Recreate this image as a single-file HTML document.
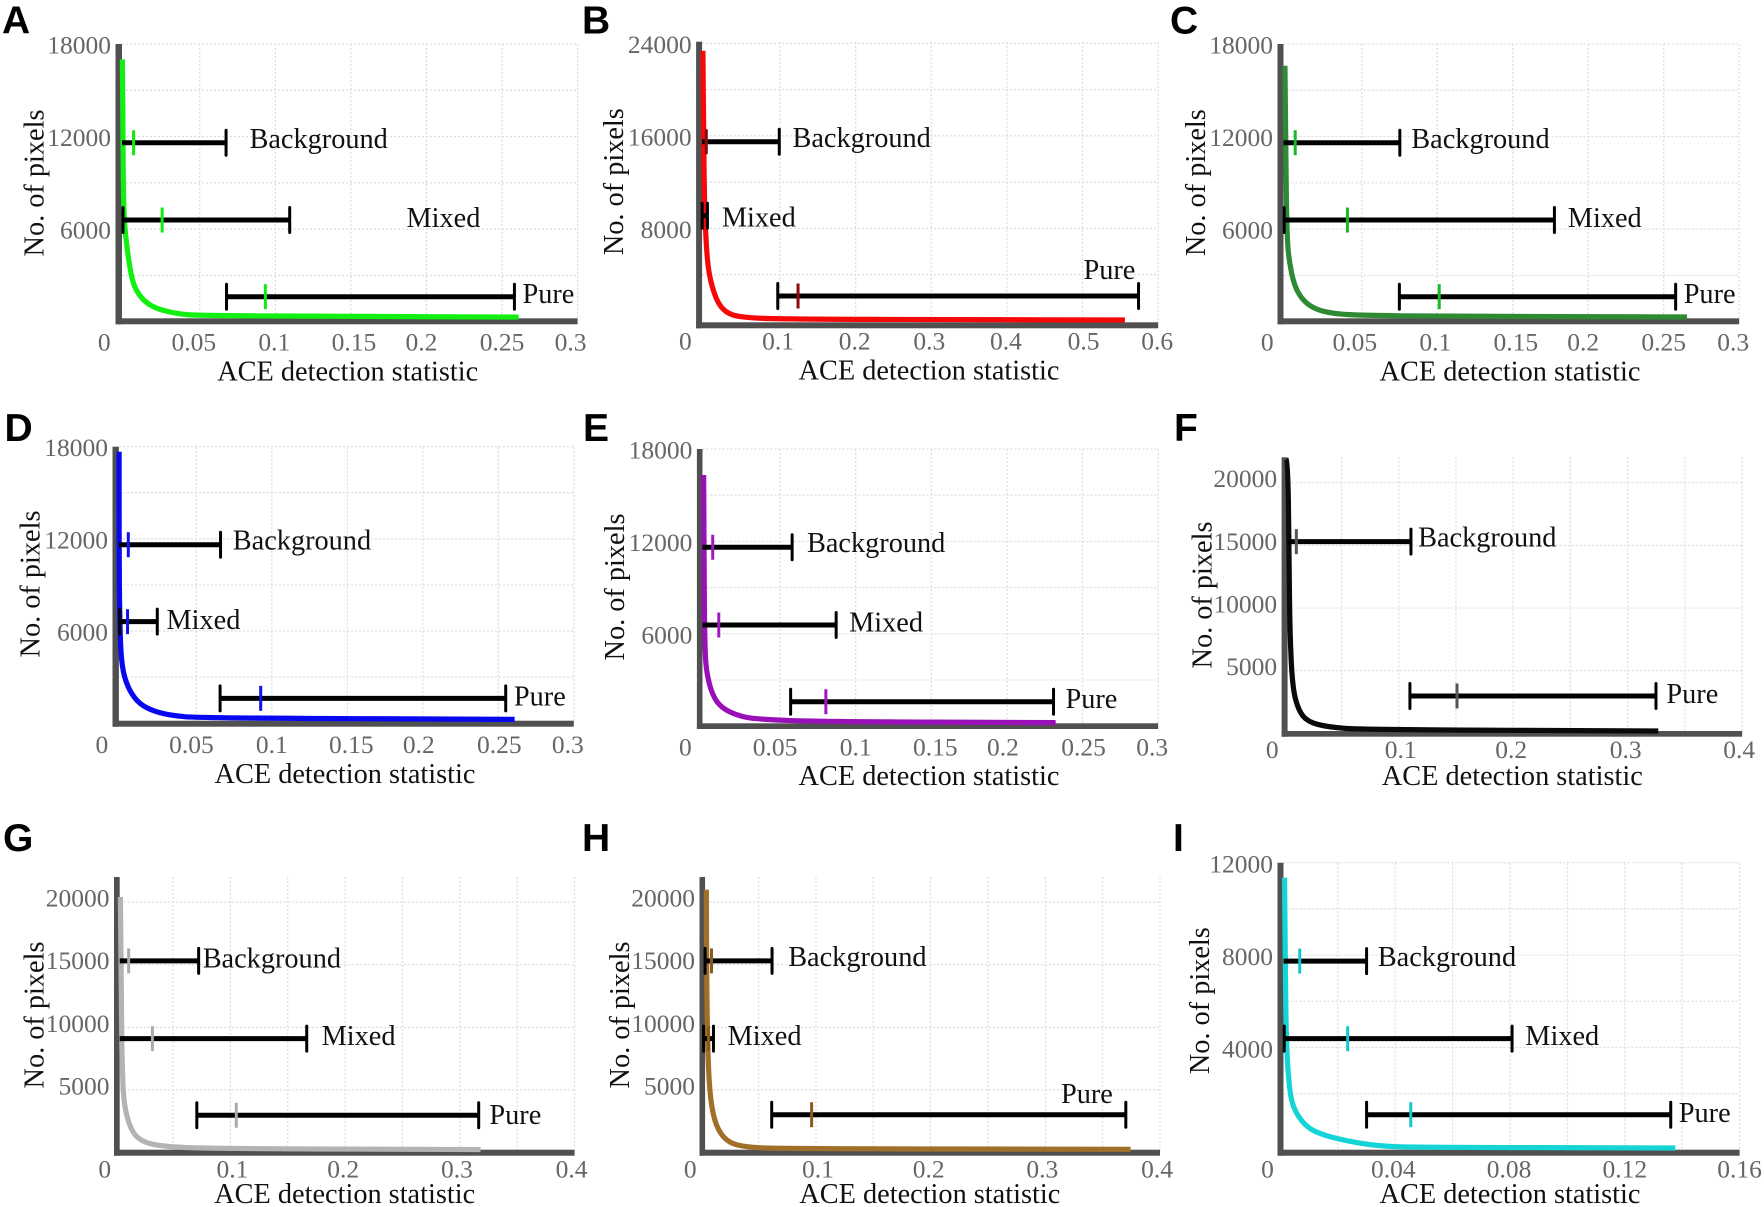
<!DOCTYPE html>
<html lang="en">
<head>
<meta charset="utf-8">
<title>ACE detection statistic histograms</title>
<style>
html,body{margin:0;padding:0;background:#fff;}
body{width:1764px;height:1207px;overflow:hidden;}
svg{display:block;filter:blur(0.35px);}
text{font-family:"Liberation Serif",serif;}
.letter{font-family:"Liberation Sans",sans-serif;font-weight:700;font-size:39px;fill:#000;}
.tick{font-size:25.5px;fill:#666;}
.title{font-size:28.3px;fill:#111;}
</style>
</head>
<body>
<svg id="figure" xmlns="http://www.w3.org/2000/svg" width="1764" height="1207" viewBox="0 0 1764 1207"></svg>
<script>
/* Shared ticks */
const rangeNames = ['Background', 'Mixed', 'Pure'];
const xTicks03 = [0, 0.05, 0.1, 0.15, 0.2, 0.25, 0.3];
const xTickLabels03 = ['0', '0.05', '0.1', '0.15', '0.2', '0.25', '0.3'];
const gridX03 = [0.05, 0.1, 0.15, 0.2, 0.25, 0.3];
const xTicks06 = [0, 0.1, 0.2, 0.3, 0.4, 0.5, 0.6];
const xTickLabels06 = ['0', '0.1', '0.2', '0.3', '0.4', '0.5', '0.6'];
const gridX06 = [0.1, 0.2, 0.3, 0.4, 0.5, 0.6];
const xTicks04 = [0, 0.1, 0.2, 0.3, 0.4];
const xTickLabels04 = ['0', '0.1', '0.2', '0.3', '0.4'];
const gridX04 = [0.05, 0.1, 0.15, 0.2, 0.25, 0.3, 0.35, 0.4];
const xTicks016 = [0, 0.04, 0.08, 0.12, 0.16];
const xTickLabels016 = ['0', '0.04', '0.08', '0.12', '0.16'];
const gridX016 = [0.02, 0.04, 0.06, 0.08, 0.1, 0.12, 0.14, 0.16];
const yTicks18k = [6000, 12000, 18000];
const yTickLabels18k = ['6000', '12000', '18000'];
const gridY18k = [3000, 6000, 9000, 12000, 15000, 18000];
const yTicks24k = [8000, 16000, 24000];
const yTickLabels24k = ['8000', '16000', '24000'];
const gridY24k = [4000, 8000, 12000, 16000, 20000, 24000];
const yTicks20k = [5000, 10000, 15000, 20000];
const yTickLabels20k = ['5000', '10000', '15000', '20000'];
const gridY20k = [5000, 10000, 15000, 20000];
const yTicks12k = [4000, 8000, 12000];
const yTickLabels12k = ['4000', '8000', '12000'];
const gridY12k = [2000, 4000, 6000, 8000, 10000, 12000];

/* Panel A */
const curveXA = [-0.0012, -0.0009, -0.0004, 0.0006, 0.0035, 0.007, 0.0168, 0.035, 0.05, 0.15, 0.261];
const curveYA = [17000, 12000, 7500, 5800, 3560, 2050, 970, 500, 400, 340, 300];
const rangeLevelA = [11600, 6590, 1620];
const rangeLoA = [null, -0.0008, 0.0677];
const rangeHiA = [0.0674, 0.1095, 0.2582];
const rangeMeanA = [0.0062, 0.0251, 0.0934];

/* Panel B */
const curveXB = [-0.002, -0.001, 0, 0.002, 0.0054, 0.0154, 0.0279, 0.0477, 0.097, 0.346, 0.556];
const curveYB = [23350, 16230, 10450, 7000, 4120, 1810, 720, 320, 170, 112, 86];
const rangeLevelB = [15490, 9100, 2160];
const rangeLoB = [null, -0.003, 0.097];
const rangeHiB = [0.099, 0.004, 0.574];
const rangeMeanB = [0.0025, null, 0.1238];

/* Panel C */
const curveXC = [-0.0009, -0.0003, 0.0004, 0.0017, 0.0054, 0.0116, 0.0203, 0.0328, 0.0502, 0.1001, 0.2654];
const curveYC = [16590, 10050, 5730, 4000, 2270, 1300, 760, 500, 415, 350, 305];
const rangeLevelC = [11600, 6590, 1620];
const rangeLoC = [null, -0.0014, 0.0749];
const rangeHiC = [0.0752, 0.1776, 0.2579];
const rangeMeanC = [0.0059, 0.0405, 0.1013];

/* Panel D */
const curveXD = [-0.0012, -0.0012, -0.0006, 0.0006, 0.0043, 0.0106, 0.0193, 0.0321, 0.052, 0.2608];
const curveYD = [17675, 10190, 5850, 3680, 2380, 1400, 860, 510, 340, 250];
const rangeLevelD = [11620, 6610, 1620];
const rangeLoD = [null, -0.0008, 0.0657];
const rangeHiD = [0.066, 0.0241, 0.2549];
const rangeMeanD = [0.0049, 0.0044, 0.0926];

/* Panel E */
const curveXE = [-0.0005, -0.0003, 0.0003, 0.0015, 0.0052, 0.0114, 0.024, 0.0363, 0.0736, 0.2322];
const curveYE = [16310, 10360, 4950, 3435, 2030, 1160, 620, 450, 300, 230];
const rangeLevelE = [11620, 6570, 1590];
const rangeLoE = [null, null, 0.057];
const rangeHiE = [0.058, 0.0871, 0.2308];
const rangeMeanE = [0.0055, 0.0095, 0.0803];

/* Panel F */
const curveXF = [0.0017, 0.0033, 0.0043, 0.005, 0.0072, 0.0122, 0.0204, 0.0385, 0.068, 0.3267];
const curveYF = [21870, 21680, 13300, 7990, 3730, 1870, 930, 500, 300, 190];
const rangeLevelF = [15300, null, 2985];
const rangeLoF = [null, null, 0.1098];
const rangeHiF = [0.1107, null, 0.3247];
const rangeMeanF = [0.0106, null, 0.1509];

/* Panel G */
const curveXG = [0.0041, 0.0048, 0.0058, 0.0074, 0.0139, 0.0237, 0.0401, 0.0795, 0.318];
const curveYG = [20400, 11630, 6300, 3650, 1650, 850, 510, 330, 250];
const rangeLevelG = [15300, 9100, 2985];
const rangeLoG = [null, null, 0.0707];
const rangeHiG = [0.0723, 0.1665, 0.3164];
const rangeMeanG = [0.0113, 0.032, 0.1051];

/* Panel H */
const curveXH = [0.0044, 0.0046, 0.0057, 0.0079, 0.0129, 0.0227, 0.0375, 0.067, 0.3744];
const curveYH = [20990, 14280, 7640, 4180, 2050, 850, 455, 320, 270];
const rangeLevelH = [15300, 9100, 3030];
const rangeLoH = [0.0033, 0.002, 0.0614];
const rangeHiH = [0.0617, 0.0106, 0.3702];
const rangeMeanH = [0.0089, 0.0063, 0.0962];

/* Panel I */
const curveXI = [0.0014, 0.0017, 0.002, 0.0029, 0.0042, 0.0083, 0.0134, 0.0219, 0.0337, 0.0481, 0.1376];
const curveYI = [11350, 7190, 4310, 2430, 1420, 630, 265, -20, -270, -325, -355];
const rangeLevelI = [7740, 4380, 1087];
const rangeLoI = [null, 0.0013, 0.03];
const rangeHiI = [0.03, 0.0807, 0.136];
const rangeMeanI = [0.0067, 0.0234, 0.0454];

const panels = [
 {id:'a',letter:'A',lx:2,ly:33.5,barL:115.5,barR:122,top:44,floorT:318.3,floorB:324.3,right:577.6,x0:124.2,xMax:0.3,y0:321.7,yRefPx:44,yRef:18000,
  cx:curveXA,cy:curveYA,level:rangeLevelA,lo:rangeLoA,hi:rangeHiA,mean:rangeMeanA,
  color:'#12f012',meanColor:'#12e812',xt:xTicks03,xl:xTickLabels03,gx:gridX03,yt:yTicks18k,yl:yTickLabels18k,gy:gridY18k,
  nudge:[-20,-6,-1,3,-5,0,-7],tickBase:350.5,titleX:347.7,titleBase:380.5,yTitleX:43.3,yTitleY:183,yDy:9.5,
  labels:[[249.5,147.8],[406.5,227.2],[522.5,303.2]]},
 {id:'b',letter:'B',lx:582,ly:33.5,barL:696.1,barR:702.1,top:41.7,floorT:322.3,floorB:328.3,right:1158.2,x0:704.4,xMax:0.6,y0:321,yRefPx:43.3,yRef:24000,
  cx:curveXB,cy:curveYB,level:rangeLevelB,lo:rangeLoB,hi:rangeHiB,mean:rangeMeanB,
  color:'#f60808',meanColor:'#8b0a0a',xt:xTicks06,xl:xTickLabels06,gx:gridX06,yt:yTicks24k,yl:yTickLabels24k,gy:gridY24k,
  nudge:[-19,-2,-1,-2,-1,1,-1],tickBase:349.5,titleX:929,titleBase:379.5,yTitleX:623,yTitleY:181.7,yDy:9.5,
  labels:[[792.5,147.2],[721.9,226.5],[1083.5,279.2]]},
 {id:'c',letter:'C',lx:1170,ly:33.5,barL:1277.5,barR:1283.5,top:44,floorT:318.3,floorB:324.3,right:1739.2,x0:1286.3,xMax:0.3,y0:321.7,yRefPx:44,yRef:18000,
  cx:curveXC,cy:curveYC,level:rangeLevelC,lo:rangeLoC,hi:rangeHiC,mean:rangeMeanC,
  color:'#2e8b34',meanColor:'#1db52a',xt:xTicks03,xl:xTickLabels03,gx:gridX03,yt:yTicks18k,yl:yTickLabels18k,gy:gridY18k,
  nudge:[-19,-7,-2,3,-5,0,-6],tickBase:350.5,titleX:1510,titleBase:380.5,yTitleX:1204.9,yTitleY:182.7,yDy:9.5,
  labels:[[1411.3,147.8],[1567.8,227.2],[1683.7,303.2]]},
 {id:'d',letter:'D',lx:4.5,ly:441,barL:112.5,barR:118.9,top:446.7,floorT:720.7,floorB:726.7,right:573.8,x0:120.9,xMax:0.3,y0:723.2,yRefPx:446.7,yRef:18000,
  cx:curveXD,cy:curveYD,level:rangeLevelD,lo:rangeLoD,hi:rangeHiD,mean:rangeMeanD,
  color:'#0808f0',meanColor:'#1010f0',xt:xTicks03,xl:xTickLabels03,gx:gridX03,yt:yTicks18k,yl:yTickLabels18k,gy:gridY18k,
  nudge:[-19,-5,0,4,-4,1,-6],tickBase:753.2,titleX:345,titleBase:783.2,yTitleX:39.5,yTitleY:584,yDy:9.5,
  labels:[[232.8,549.5],[166.5,628.8],[513.9,705.5]]},
 {id:'e',letter:'E',lx:583,ly:441,barL:696.9,barR:702.5,top:449,floorT:723.3,floorB:729,right:1158.2,x0:704.4,xMax:0.3,y0:726.2,yRefPx:449,yRef:18000,
  cx:curveXE,cy:curveYE,level:rangeLevelE,lo:rangeLoE,hi:rangeHiE,mean:rangeMeanE,
  color:'#9a10b8',meanColor:'#a018c0',xt:xTicks03,xl:xTickLabels03,gx:gridX03,yt:yTicks18k,yl:yTickLabels18k,gy:gridY18k,
  nudge:[-19,-5,0,4,-4,1,-6],tickBase:755.5,titleX:929,titleBase:784.8,yTitleX:623.9,yTitleY:587,yDy:9.5,
  labels:[[807,552.2],[849.1,631.5],[1065.5,708.2]]},
 {id:'f',letter:'F',lx:1174,ly:441,barL:1281.6,barR:1287.6,top:457.3,floorT:731,floorB:736.7,right:1742.2,x0:1284.2,xMax:0.4,y0:733.4,yRefPx:482.7,yRef:20000,
  cx:curveXF,cy:curveYF,level:rangeLevelF,lo:rangeLoF,hi:rangeHiF,mean:rangeMeanF,
  color:'#0a0a0a',meanColor:'#555555',xt:xTicks04,xl:xTickLabels04,gx:gridX04,yt:yTicks20k,yl:yTickLabels20k,gy:gridY20k,
  nudge:[-12,2,-2,-2,-3],tickBase:757.8,titleX:1512.3,titleBase:784.8,yTitleX:1211.6,yTitleY:595,yDy:4.5,
  labels:[[1418.1,546.5],null,[1666.4,702.8]]},
 {id:'g',letter:'G',lx:3,ly:851,barL:114,barR:119.7,top:877,floorT:1149.7,floorB:1155.7,right:574.6,x0:115.7,xMax:0.4,y0:1152.7,yRefPx:902,yRef:20000,
  cx:curveXG,cy:curveYG,level:rangeLevelG,lo:rangeLoG,hi:rangeHiG,mean:rangeMeanG,
  color:'#b3b3b3',meanColor:'#aaaaaa',xt:xTicks04,xl:xTickLabels04,gx:gridX04,yt:yTicks20k,yl:yTickLabels20k,gy:gridY20k,
  nudge:[-11,2,-2,-3,-3],tickBase:1177.5,titleX:344.7,titleBase:1203.2,yTitleX:43.3,yTitleY:1015,yDy:4.5,
  labels:[[202.7,967.5],[321.6,1044.8],[489.4,1124.2]]},
 {id:'h',letter:'H',lx:582,ly:851,barL:699.5,barR:705.1,top:877,floorT:1149.7,floorB:1155.7,right:1160,x0:701.3,xMax:0.4,y0:1152.7,yRefPx:902,yRef:20000,
  cx:curveXH,cy:curveYH,level:rangeLevelH,lo:rangeLoH,hi:rangeHiH,mean:rangeMeanH,
  color:'#a0702a',meanColor:'#8a5a1c',xt:xTicks04,xl:xTickLabels04,gx:gridX04,yt:yTicks20k,yl:yTickLabels20k,gy:gridY20k,
  nudge:[-11,2,-2,-3,-3],tickBase:1177.5,titleX:929.8,titleBase:1203.2,yTitleX:628.8,yTitleY:1015,yDy:4.5,
  labels:[[788.2,965.8],[727.6,1044.8],[1061,1102.8]]},
 {id:'i',letter:'I',lx:1173,ly:851,barL:1277.5,barR:1283.5,top:862.7,floorT:1149.7,floorB:1155.7,right:1739.6,x0:1280.5,xMax:0.16,y0:1139.8,yRefPx:862.7,yRef:12000,
  cx:curveXI,cy:curveYI,level:rangeLevelI,lo:rangeLoI,hi:rangeHiI,mean:rangeMeanI,
  color:'#14d4d8',meanColor:'#12c8d0',xt:xTicks016,xl:xTickLabels016,gx:gridX016,yt:yTicks12k,yl:yTickLabels12k,gy:gridY12k,
  nudge:[-13,-2,-1,0,0],tickBase:1177.5,titleX:1510,titleBase:1203.2,yTitleX:1209,yTitleY:1000.7,yDy:10,
  labels:[[1377.8,965.8],[1525.3,1044.8],[1678.8,1121.8]]}
];

const NS = 'http://www.w3.org/2000/svg';
const root = document.getElementById('figure');

function make(tag, attrs, parent) {
  const el = document.createElementNS(NS, tag);
  for (const k in attrs) el.setAttribute(k, attrs[k]);
  
  parent.appendChild(el);
  return el;
}

function smoothPath(pts) {
  let d = 'M' + pts[0][0].toFixed(2) + ' ' + pts[0][1].toFixed(2);
  for (let i = 1; i < pts.length - 1; i++) {
    const mx = (pts[i][0] + pts[i + 1][0]) / 2;
    const my = (pts[i][1] + pts[i + 1][1]) / 2;
    d += ' Q' + pts[i][0].toFixed(2) + ' ' + pts[i][1].toFixed(2) + ' ' + mx.toFixed(2) + ' ' + my.toFixed(2);
  }
  const last = pts[pts.length - 1];
  d += ' L' + last[0].toFixed(2) + ' ' + last[1].toFixed(2);
  return d;
}

panels.forEach(function (p) {
  const xScale = function (v) { return p.x0 + (v / p.xMax) * (p.right - p.x0); };
  const yScale = function (v) { return p.y0 - (v / p.yRef) * (p.y0 - p.yRefPx); };

  const g = make('g', {}, root);
  

  const letter = make('text', {x: p.lx, y: p.ly, class: 'letter'}, g);
  
  letter.textContent = p.letter;

  p.gy.forEach(function (v) {
    const line = make('line', {x1: p.barR, x2: p.right, y1: yScale(v), y2: yScale(v), stroke: '#dcdcdc', 'stroke-width': 1.2, 'stroke-dasharray': '2 2'}, g);
    
  });
  p.gx.forEach(function (v) {
    const line = make('line', {x1: xScale(v), x2: xScale(v), y1: p.top, y2: p.floorT, stroke: '#dcdcdc', 'stroke-width': 1.2, 'stroke-dasharray': '2 2'}, g);
    
  });

  const yAxis = make('rect', {x: p.barL, y: p.top, width: p.barR - p.barL, height: p.floorB - p.top, fill: '#505050'}, g);
  
  const xAxis = make('rect', {x: p.barL, y: p.floorT, width: p.right - p.barL, height: p.floorB - p.floorT, fill: '#505050'}, g);
  

  const curvePts = p.cx.map(function (v, i) { return [xScale(v), yScale(p.cy[i])]; });
  const curve = make('path', {d: smoothPath(curvePts), fill: 'none', stroke: p.color, 'stroke-width': 5.2, 'stroke-linejoin': 'round'}, g);
  

  rangeNames.forEach(function (name, i) {
    if (p.level[i] === null) return;
    const rg = make('g', {}, g);
    
    const yy = yScale(p.level[i]);
    const start = p.lo[i] === null ? p.barR : xScale(p.lo[i]);
    const end = xScale(p.hi[i]);
    const bar = make('line', {x1: start, x2: end, y1: yy, y2: yy, stroke: '#000', 'stroke-width': 5}, rg);
    
    if (p.lo[i] !== null) {
      const capL = make('line', {x1: start, x2: start, y1: yy - 12.5, y2: yy + 12.5, stroke: '#000', 'stroke-width': 3, 'stroke-linecap': 'round'}, rg);
      
    }
    const capR = make('line', {x1: end, x2: end, y1: yy - 12.5, y2: yy + 12.5, stroke: '#000', 'stroke-width': 3, 'stroke-linecap': 'round'}, rg);
    
    if (p.mean[i] !== null) {
      const mx = xScale(p.mean[i]);
      const tick = make('line', {x1: mx, x2: mx, y1: yy - 12.5, y2: yy + 12.5, stroke: p.meanColor, 'stroke-width': 3}, rg);
      
    }
    const pos = p.labels[i];
    if (pos) {
      const lab = make('text', {x: pos[0], y: pos[1], class: 'title'}, rg);
      
      lab.textContent = name;
    }
  });

  p.xt.forEach(function (v, i) {
    const t = make('text', {x: xScale(v) + p.nudge[i], y: p.tickBase, class: 'tick', 'text-anchor': 'middle'}, g);
    
    t.textContent = p.xl[i];
  });
  p.yt.forEach(function (v, i) {
    const t = make('text', {x: p.barL - 4.5, y: yScale(v) + p.yDy, class: 'tick', 'text-anchor': 'end'}, g);
    
    t.textContent = p.yl[i];
  });

  const xTitle = make('text', {x: p.titleX, y: p.titleBase, class: 'title', 'text-anchor': 'middle'}, g);
  
  xTitle.textContent = 'ACE detection statistic';

  const yTitle = make('text', {x: 0, y: 0, class: 'title', 'text-anchor': 'middle', transform: 'translate(' + p.yTitleX + ' ' + p.yTitleY + ') rotate(-90)'}, g);
  
  yTitle.textContent = 'No. of pixels';
});
</script>
</body>
</html>
